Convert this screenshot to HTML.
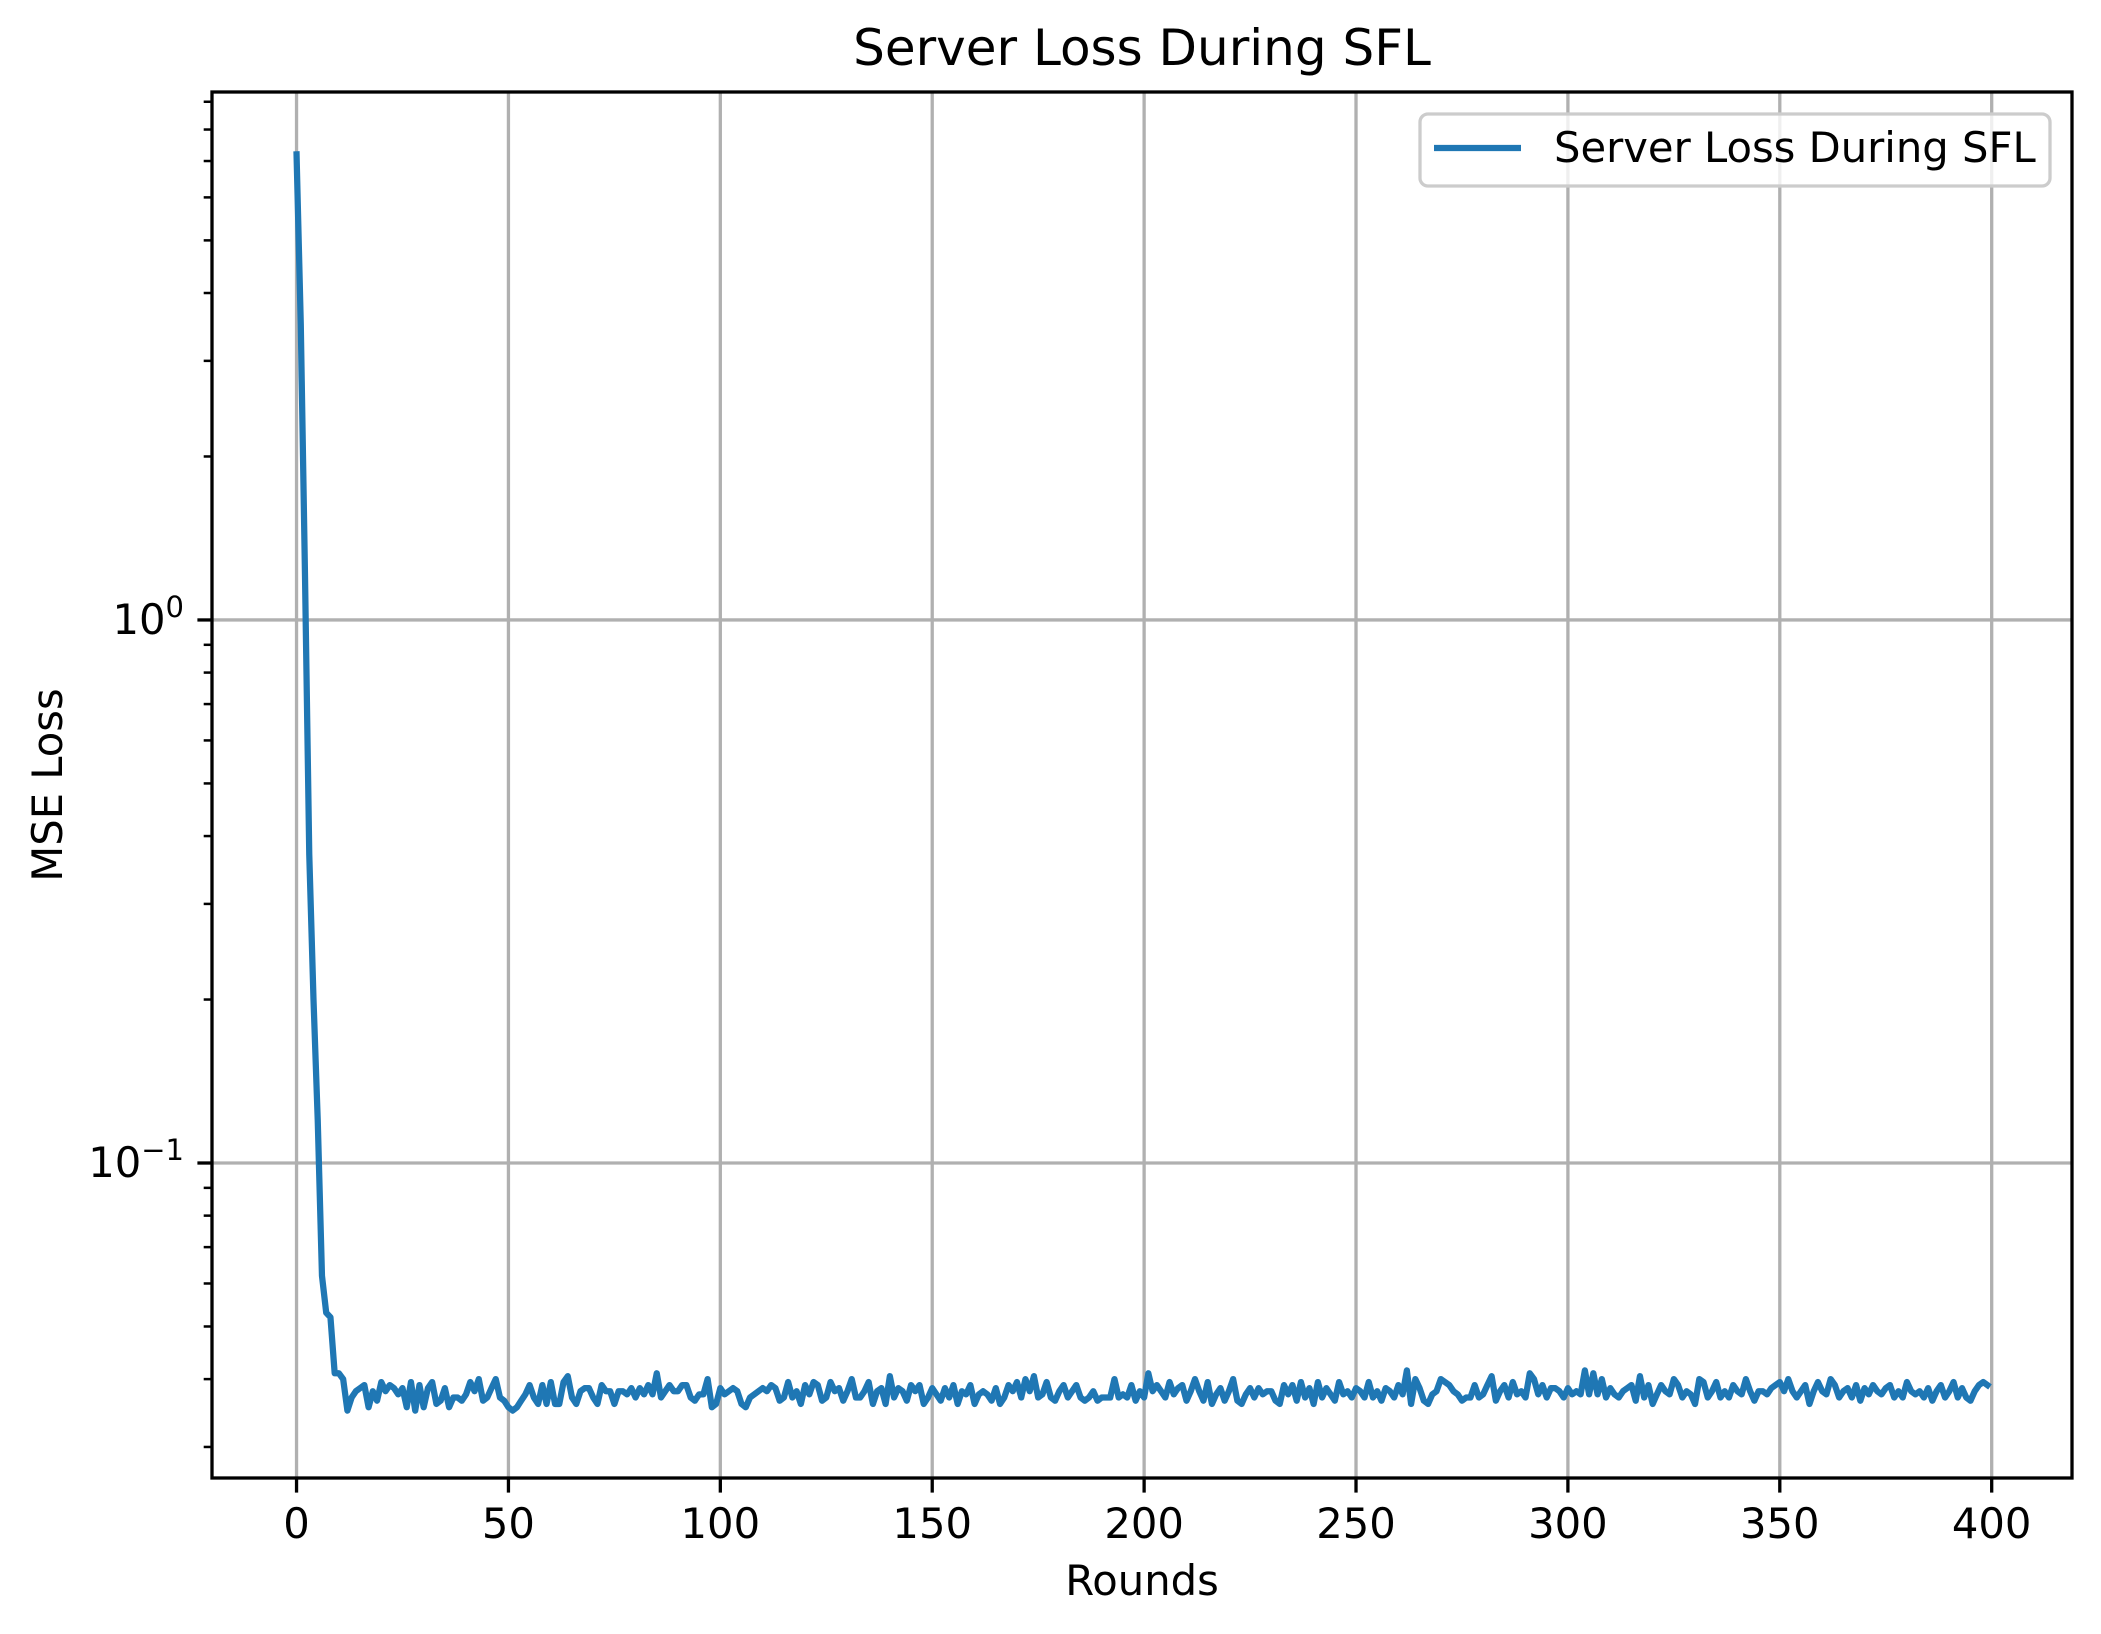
<!DOCTYPE html>
<html><head><meta charset="utf-8"><style>
html,body{margin:0;padding:0;background:#fff;}
svg{display:block;font-family:"DejaVu Sans","Liberation Sans",sans-serif;}
</style></head><body>
<svg id="chart" width="2101" height="1634" viewBox="0 0 2101 1634" xmlns="http://www.w3.org/2000/svg">
<rect width="2101" height="1634" fill="#fff"/>
<g id="grid"></g>
<g id="series"></g>
<g id="axes"></g>
<text x="1142" y="65" font-size="50" text-anchor="middle">Server Loss During SFL</text>
<text x="1142" y="1595" font-size="41.7" text-anchor="middle">Rounds</text>
<text transform="translate(62,785) rotate(-90)" font-size="41.7" text-anchor="middle">MSE Loss</text>
<g>
<rect x="1420" y="114" width="630" height="72" rx="8" fill="#fff" fill-opacity="0.8" stroke="#cccccc" stroke-width="3.3"/>
<line x1="1434" y1="148" x2="1521" y2="148" stroke="#1f77b4" stroke-width="6.25"/>
<text x="1554" y="162" font-size="41.7">Server Loss During SFL</text>
</g>
</svg>
<script>
const headValues = [7.2,3.5,1.2,0.37,0.2,0.12,0.062,0.053,0.052,0.041,0.041,0.040,0.035];
const tailValuesMilli = [
37,38,38.5,39,35.5,38,36.5,39.5,38,39,38.5,37.5,38.5,35.5,39.5,35,39,35.5,38.5,39.5,
36,36.5,38.5,35.5,37,37,36.5,37.5,39.5,38,40,36.5,37,38.5,40,37,36.5,35.5,35,35.5,
36.5,37.5,39,37,36,39,36,39.5,36,36,39.5,40.5,37,36,38,38.5,38.5,37,36,39,
38,38,36,38,38,37.5,38.5,37,38.5,37.5,39,37.5,41,37,38,39,38,38,39,39,
37,36.5,37.5,37.5,40,35.5,36,38.5,37.5,38,38.5,38,36,35.5,37,37.5,38,38.5,38,39,
38.5,36.5,37,39.5,37,38,36,39,37.5,39.5,39,36.5,37,39.5,38,38.5,36.5,38,40,37,
37,38,39.5,36,38,38.5,36,40.5,37,38.5,38,36.5,39,38,39,36,37,38.5,37.5,36.5,
38.5,37,39,36,38,37.5,39,36,37.5,38,37.5,36.5,38.5,36,37,39,38,39.5,37,40,
38,40.5,37,37.5,39.5,37,36.5,38,39,37,38,39,37,36.5,37,38,36.5,37,37,37,
40,37,37.5,37,39,36.5,38,37,41,38,39,38,37,39.5,37.5,38.5,39,36.5,38,40,
38,36.5,39.5,36,37.5,38.5,36.5,38,40,36.5,36,37.5,38.5,37,38.5,37.5,38,38,36.5,36,
39,37.5,39,36.5,39.5,37,38.5,36,39.5,37,38.5,37.5,36.5,39.5,37.5,38,37,38.5,38,37,
39.5,37,38,36.5,38.5,38,37,39,37.5,41.5,36,40,38.5,36.5,36,37.5,38,40,39.5,39,
38,37.5,36.5,37,37,39,37,37.5,39,40.5,36.5,38,39,37,39.5,37.5,38,37,41,40,
37.5,39,37,38.5,38.5,38,37,38.5,37.5,38,37.5,41.5,37.5,41,37.5,40,37,38.5,37.5,37,
38,38.5,39,36.5,40.5,37,39,36,37.5,39,38,37.5,40,39,37,38,37.5,36,40,39.5,
37,38,39.5,37,38,37,39,38,37.5,40,38,36.5,38,38,37.5,38.5,39,39.5,38,40,
38,37,38,39,36,38,39.5,38,37.5,40,39,37,38,38.5,37,39,36.5,38.5,37.5,39,
38,37.5,38.5,39,37,38,37,39.5,38,37.5,38,37,38.5,36.5,38,39,37,38,39.5,37,
38.5,37,36.5,38,39,39.5,39];
const xTickValues = [0,50,100,150,200,250,300,350,400];
const yMajorExps = [-1,0];

const values = headValues.concat(tailValuesMilli.map(v => v/1000));
const L=212,R=2072,T=92,B=1478;
const xMin=-19.95,xMax=418.95;
const yLogMin=Math.log10(0.0263),yLogMax=Math.log10(9.38);
const xs=v=>L+(v-xMin)/(xMax-xMin)*(R-L);
const ys=v=>B-(Math.log10(v)-yLogMin)/(yLogMax-yLogMin)*(B-T);
const NS="http://www.w3.org/2000/svg";
function mk(tag,attrs,parent){const e=document.createElementNS(NS,tag);for(const k in attrs)e.setAttribute(k,attrs[k]);parent.appendChild(e);return e;}
const grid=document.getElementById('grid'),axes=document.getElementById('axes'),series=document.getElementById('series');

xTickValues.forEach(v=>{
  const x=xs(v);
  const g=mk('line',{x1:x,y1:T,x2:x,y2:B,stroke:'#b0b0b0','stroke-width':3.3},grid);
  
  
  const t=mk('line',{x1:x,y1:B,x2:x,y2:B+14.6,stroke:'#000','stroke-width':3.3},axes);
  
  
  const lb=mk('text',{x:x,y:B+60,'font-size':41.7,'text-anchor':'middle'},axes);
  lb.textContent=String(v);
  
  
});
yMajorExps.forEach(e=>{
  const y=ys(Math.pow(10,e));
  const g=mk('line',{x1:L,y1:y,x2:R,y2:y,stroke:'#b0b0b0','stroke-width':3.3},grid);
  
  
  const t=mk('line',{x1:L-14.6,y1:y,x2:L,y2:y,stroke:'#000','stroke-width':3.3},axes);
  
  
  const lb=mk('text',{x:L-28,y:y+14,'font-size':41.7,'text-anchor':'end'},axes);
  
  
  const base=document.createElementNS(NS,'tspan');base.textContent='10';lb.appendChild(base);
  const sup=document.createElementNS(NS,'tspan');sup.setAttribute('dy','-17');sup.setAttribute('font-size','29');
  sup.textContent=e<0?'\u2212'+Math.abs(e):String(e);lb.appendChild(sup);
});
for(let e=-2;e<=0;e++){for(let m=2;m<=9;m++){const v=m*Math.pow(10,e);const y=ys(v);if(y<T||y>B)continue;
  const t=mk('line',{x1:L-8.3,y1:y,x2:L,y2:y,stroke:'#000','stroke-width':2.5},axes);
  
  
}}
const pts=values.map((v,i)=>xs(i).toFixed(2)+','+ys(v).toFixed(2)).join(' ');
const line=mk('polyline',{points:pts,fill:'none',stroke:'#1f77b4','stroke-width':6.25,'stroke-linejoin':'round','stroke-linecap':'square'},series);


const frame=mk('rect',{x:L,y:T,width:R-L,height:B-T,fill:'none',stroke:'#000','stroke-width':3.3},axes);


</script>
</body></html>
